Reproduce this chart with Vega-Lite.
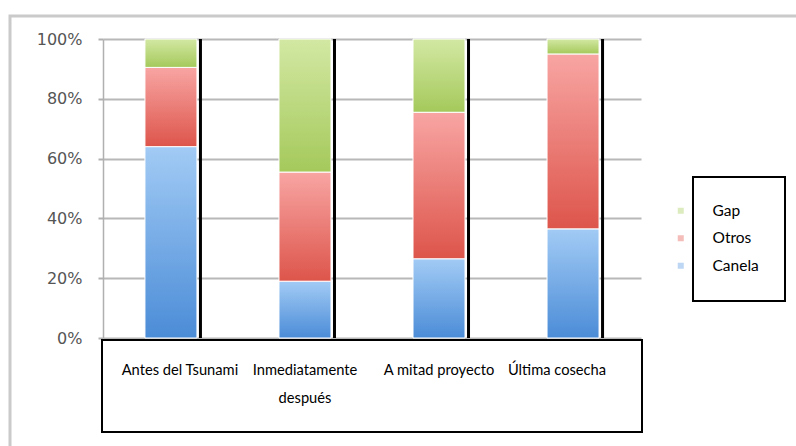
{
  "$schema": "https://vega.github.io/schema/vega-lite/v6.json",
  "width": 790,
  "height": 434,
  "autosize": {"type": "none"},
  "padding": {"left": 10, "top": 16, "right": -4, "bottom": -4},
  "background": "white",
  "view": {"stroke": "#cacaca", "strokeWidth": 3},
  "config": {"legend": {"strokeWidth": 2}},
  "datasets": {
    "cosecha": [
      {"periodo": "Antes del Tsunami", "serie": "Canela", "porcentaje": 64},
      {"periodo": "Antes del Tsunami", "serie": "Otros", "porcentaje": 26.5},
      {"periodo": "Antes del Tsunami", "serie": "Gap", "porcentaje": 9.5},
      {"periodo": "Inmediatamente después", "serie": "Canela", "porcentaje": 19},
      {"periodo": "Inmediatamente después", "serie": "Otros", "porcentaje": 36.5},
      {"periodo": "Inmediatamente después", "serie": "Gap", "porcentaje": 44.5},
      {"periodo": "A mitad proyecto", "serie": "Canela", "porcentaje": 26.5},
      {"periodo": "A mitad proyecto", "serie": "Otros", "porcentaje": 49},
      {"periodo": "A mitad proyecto", "serie": "Gap", "porcentaje": 24.5},
      {"periodo": "Última cosecha", "serie": "Canela", "porcentaje": 36.5},
      {"periodo": "Última cosecha", "serie": "Otros", "porcentaje": 58.5},
      {"periodo": "Última cosecha", "serie": "Gap", "porcentaje": 5}
    ]
  },
  "layer": [
    {
      "data": {"name": "cosecha"},
      "layer": [
        {
          "transform": [
            {"calculate": "indexof(['Canela', 'Otros', 'Gap'], datum.serie)", "as": "orden_pila"}
          ],
          "mark": {"type": "bar", "stroke": "white", "strokeWidth": 1},
          "encoding": {
            "x": {
              "field": "periodo",
              "type": "nominal",
              "sort": null,
              "scale": {"range": [93, 631], "paddingInner": 0.612, "paddingOuter": 0.313},
              "axis": {
                "orient": "bottom",
                "offset": -110,
                "title": null,
                "domain": false,
                "ticks": false,
                "grid": false,
                "labelAngle": 0,
                "labelFont": "Lato",
                "labelFontSize": 14.7,
                "labelColor": "black",
                "labelPadding": 22,
                "labelBaseline": "top",
                "labelLineHeight": 28,
                "labelLimit": 220,
                "labelExpr": "datum.label == 'Inmediatamente después' ? ['Inmediatamente', 'después'] : datum.label",
                "labelOffset": {
                  "condition": [
                    {"test": "datum.value === 'Antes del Tsunami'", "value": 9},
                    {"test": "datum.value === 'Última cosecha'", "value": -16}
                  ],
                  "value": 0
                }
              }
            },
            "y": {
              "field": "porcentaje",
              "type": "quantitative",
              "stack": "normalize",
              "scale": {"range": [322, 23]},
              "axis": {
                "orient": "left",
                "offset": -93,
                "title": null,
                "format": ".0%",
                "values": [0, 0.2, 0.4, 0.6, 0.8, 1],
                "domain": true,
                "domainColor": "#b0b0b0",
                "domainWidth": 1.5,
                "ticks": true,
                "tickSize": 5,
                "tickColor": "#b0b0b0",
                "tickWidth": 2,
                "grid": true,
                "gridColor": "#b8b8b8",
                "gridWidth": 2,
                "labelFont": "DejaVu Sans",
                "labelFontSize": 16,
                "labelColor": "#555555",
                "labelPadding": 16
              }
            },
            "order": {"field": "orden_pila", "type": "quantitative", "sort": "ascending"},
            "color": {
              "condition": [
                {"test": "datum.serie === 'Canela'", "value": {"gradient": "linear", "x1": 0, "y1": 0, "x2": 0, "y2": 1, "stops": [{"offset": 0, "color": "#a2cbf5"}, {"offset": 1, "color": "#4b8cd7"}]}},
                {"test": "datum.serie === 'Otros'", "value": {"gradient": "linear", "x1": 0, "y1": 0, "x2": 0, "y2": 1, "stops": [{"offset": 0, "color": "#f8a5a3"}, {"offset": 1, "color": "#dd554b"}]}},
                {"test": "datum.serie === 'Gap'", "value": {"gradient": "linear", "x1": 0, "y1": 0, "x2": 0, "y2": 1, "stops": [{"offset": 0, "color": "#d2e8a3"}, {"offset": 1, "color": "#a5c95b"}]}}
              ],
              "field": "serie",
              "type": "nominal",
              "scale": {
                "domain": ["Canela", "Otros", "Gap"],
                "range": ["#7aaee8", "#ec7c74", "#bcd97f"]
              },
              "legend": {
                "orient": "none",
                "legendX": 683,
                "legendY": 161,
                "title": null,
                "values": ["Gap", "Otros", "Canela"],
                "symbolType": "square",
                "symbolSize": 36,
                "symbolOpacity": 0.5,
                "symbolStrokeWidth": 0,
                "symbolOffset": -46,
                "labelFont": "Lato",
                "labelFontSize": 15.5,
                "labelColor": "black",
                "labelOffset": 24,
                "padding": 26,
                "rowPadding": 10.5,
                "strokeColor": "black"
              }
            }
          }
        },
        {
          "transform": [{"filter": "datum.serie === 'Canela'"}],
          "mark": {"type": "rule", "color": "black", "strokeWidth": 3, "xOffset": 3.5},
          "encoding": {
            "x": {"field": "periodo", "type": "nominal", "sort": null, "bandPosition": 1},
            "y": {"datum": 0, "type": "quantitative"},
            "y2": {"datum": 1}
          }
        }
      ]
    },
    {
      "data": {"values": [{"marco": "periodos"}]},
      "mark": {"type": "rect", "filled": false, "color": "black", "strokeWidth": 2},
      "encoding": {
        "x": {"field": "marco", "type": "nominal", "scale": {"range": [92, 632], "paddingInner": 0, "paddingOuter": 0}, "axis": null},
        "y": {"field": "marco", "type": "nominal", "scale": {"range": [324, 416], "paddingInner": 0, "paddingOuter": 0}, "axis": null}
      }
    }
  ],
  "resolve": {"scale": {"x": "independent", "y": "independent"}}
}
